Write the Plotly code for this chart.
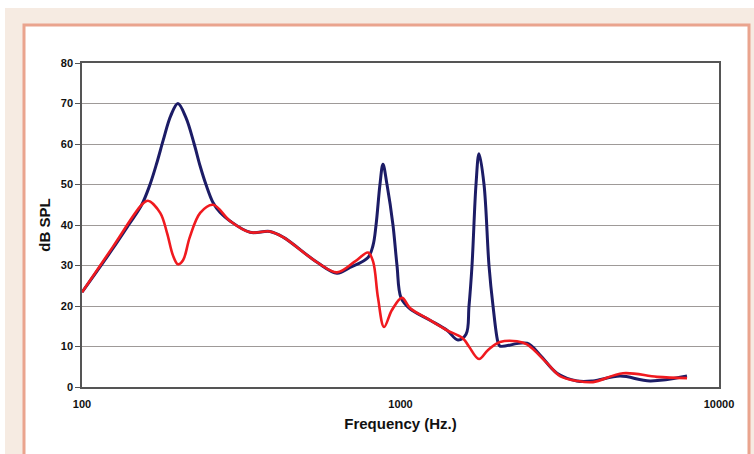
import plotly.graph_objects as go

# Blue curve - frequency (Hz) and level (dB SPL)
blue_freq = [100, 125, 140, 154, 163.5, 172, 180, 190, 200, 212, 225, 235, 245, 258, 272, 291.5,
             337, 389, 428, 547, 632, 694, 791, 820, 838, 862, 881, 907, 947, 975, 1004, 1071,
             1238, 1400, 1515, 1606, 1641, 1677, 1726, 1764, 1829, 1896, 1952, 2024, 2053, 2496,
             2742, 3100, 3583, 4022, 4889, 6074, 7934]
blue_db = [23.4, 34.2, 40, 45, 50, 55.5, 61, 67, 70, 66.5, 60, 54.5, 50, 45.5, 43, 41,
           38.2, 38.4, 37, 30.8, 28.1, 29.5, 32, 35, 40, 50, 55, 50, 40, 30, 22, 19.3,
           16.5, 14, 11.6, 13, 20, 30, 50, 57.6, 50, 30, 20, 11, 10.1, 10.8,
           7.9, 3.4, 1.5, 1.5, 2.7, 1.5, 2.7]

# Red curve
red_freq = [100, 125, 154, 161, 176, 185, 193, 200, 207.6, 218, 235, 258, 291.5, 337, 389, 428,
            547, 632, 720, 791, 820, 850, 888, 940, 1011, 1071, 1238, 1400, 1571, 1640, 1764,
            1880, 2053, 2322, 2496, 2884, 3169, 3583, 4022, 4996, 6388, 7934]
red_db = [23.4, 34.6, 45, 46, 43, 38, 32.5, 30.3, 31.3, 37, 43, 45, 41, 38.2, 38.4, 37,
          30.8, 28.3, 31, 33.2, 31, 22, 14.8, 19, 22, 19.5, 16.5, 14, 12, 10, 6.9,
          9.1, 11.1, 11.3, 10.5, 5.9, 2.7, 1.5, 1.2, 3.4, 2.5, 2.2]

x_tickvals = [100, 1000, 10000]
x_ticktext = ["100", "1000", "10000"]
y_tickvals = [0, 10, 20, 30, 40, 50, 60, 70, 80]

W, H = 754, 454
L, R, T, B = 82, 35, 63, 67
PW, PH = W - L - R, H - T - B


def px(x):
    return (x - L) / PW


def py(y):
    return (H - B - y) / PH


fig = go.Figure()
fig.add_trace(go.Scatter(x=blue_freq, y=blue_db, mode="lines",
                         line=dict(color="#1c1c66", width=3, shape="spline", smoothing=1.0),
                         showlegend=False, hoverinfo="skip"))
fig.add_trace(go.Scatter(x=red_freq, y=red_db, mode="lines",
                         line=dict(color="#f01a1f", width=2.6, shape="spline", smoothing=1.0),
                         showlegend=False, hoverinfo="skip"))

shapes = [
    # white strips at top and left edges
    dict(type="rect", xref="paper", yref="paper", x0=px(0), x1=px(W), y0=py(0), y1=py(8),
         fillcolor="white", line=dict(width=0), layer="below"),
    dict(type="rect", xref="paper", yref="paper", x0=px(0), x1=px(5), y0=py(0), y1=py(H),
         fillcolor="white", line=dict(width=0), layer="below"),
    # white panel with salmon border
    dict(type="rect", xref="paper", yref="paper", x0=px(24), x1=px(749), y0=py(25), y1=py(H + 10),
         fillcolor="white", line=dict(color="#eaa48e", width=3), layer="below"),
]

fig.update_layout(
    width=W, height=H,
    margin=dict(l=L, r=R, t=T, b=B),
    paper_bgcolor="#f6ebe2",
    plot_bgcolor="white",
    shapes=shapes,
    font=dict(family="Liberation Sans, Arial, sans-serif", color="#111111"),
    xaxis=dict(
        type="log", range=[2, 4],
        tickvals=x_tickvals, ticktext=x_ticktext,
        tickfont=dict(size=11, weight="bold", color="#111111"),
        showgrid=False, zeroline=False,
        showline=True, linecolor="#555555", linewidth=1.5, mirror=True,
        ticks="", ticklabelstandoff=6,
        title=dict(text="Frequency (Hz.)", font=dict(size=15, weight="bold", color="#111111"),
                   standoff=10),
    ),
    yaxis=dict(
        range=[0, 80], tickvals=y_tickvals,
        tickfont=dict(size=11, weight="bold", color="#111111"),
        showgrid=True, gridcolor="#9e9a98", gridwidth=1, zeroline=False,
        showline=True, linecolor="#555555", linewidth=1.5, mirror=True,
        ticks="outside", ticklen=5, tickcolor="#555555",
        title=dict(text="dB SPL", font=dict(size=15, weight="bold", color="#111111"),
                   standoff=7),
    ),
)

fig.write_html("out.html")
